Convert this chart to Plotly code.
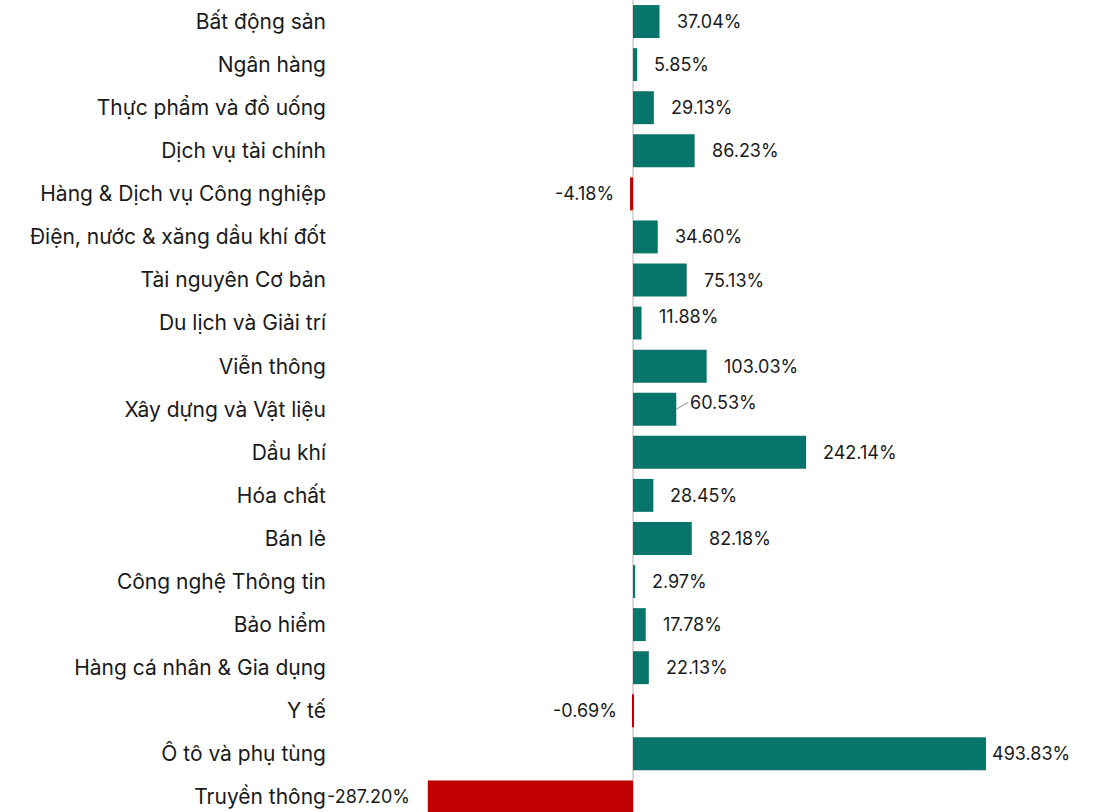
import plotly.graph_objects as go

categories = ["Bất động sản", "Ngân hàng", "Thực phẩm và đồ uống", "Dịch vụ tài chính",
              "Hàng & Dịch vụ Công nghiệp", "Điện, nước & xăng dầu khí đốt", "Tài nguyên Cơ bản",
              "Du lịch và Giải trí", "Viễn thông", "Xây dựng và Vật liệu", "Dầu khí", "Hóa chất",
              "Bán lẻ", "Công nghệ Thông tin", "Bảo hiểm", "Hàng cá nhân & Gia dụng", "Y tế",
              "Ô tô và phụ tùng", "Truyền thông"]
values = [37.04, 5.85, 29.13, 86.23, -4.18, 34.60, 75.13, 11.88, 103.03, 60.53, 242.14, 28.45,
          82.18, 2.97, 17.78, 22.13, -0.69, 493.83, -287.20]

POS = "#08756B"
NEG = "#C00000"
colors = [POS if v >= 0 else NEG for v in values]

fig = go.Figure(go.Bar(
    x=values, y=categories, orientation="h",
    marker=dict(color=colors, line=dict(width=0)),
    hoverinfo="skip",
))

VFONT = dict(family="Inter", size=18, color="#1a1a1a")
annotations = []
for c, v in zip(categories, values):
    label = f"{v:.2f}%"
    if c == "Xây dựng và Vật liệu":
        annotations.append(dict(x=v, y=c, xref="x", yref="y", text=label, showarrow=True,
                                arrowhead=0, arrowwidth=1.2, arrowcolor="#a6a6a6",
                                ax=12, ay=-7, xanchor="left", yanchor="middle", font=VFONT))
        continue
    if v >= 0:
        xs = 4 if v > 400 else 15
        xa = "left"
    else:
        xs = -16 if v < -100 else -14
        xa = "right"
    ys = 7 if c == "Du lịch và Giải trí" else 0
    annotations.append(dict(x=v, y=c, xref="x", yref="y", text=label, showarrow=False,
                            xanchor=xa, xshift=xs, yshift=ys, font=VFONT))

fig.update_layout(
    width=1099, height=812,
    margin=dict(l=335, r=0, t=0, b=0),
    paper_bgcolor="white", plot_bgcolor="white",
    bargap=0.235,
    showlegend=False,
    font=dict(family="Inter", size=21, color="#1a1a1a"),
    xaxis=dict(range=[-417, 652], showgrid=False, showticklabels=False, zeroline=True,
               zerolinecolor="#d9d9d9", zerolinewidth=2, fixedrange=True, layer="above traces"),
    yaxis=dict(range=[18.35, -0.5], showgrid=False, ticks="", ticklabelstandoff=8,
               tickfont=dict(family="Inter", size=21, color="#1a1a1a")),
    annotations=annotations,
)

fig.write_html("out.html", config={"displayModeBar": False},
               post_script="document.body.style.margin='0';document.body.style.overflow='hidden';")
